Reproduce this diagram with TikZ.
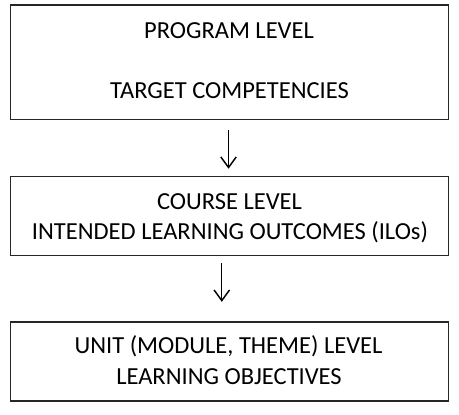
\documentclass[tikz,border=0pt]{standalone}
\usepackage{fontspec}
\setmainfont{Carlito}
\usetikzlibrary{arrows.meta}
\begin{document}
\begin{tikzpicture}[x=1pt,y=-1pt,
  levelbox/.style={draw=black!85, line width=1.6pt, inner sep=0pt, minimum width=454pt},
  leveltext/.style={anchor=base, inner sep=0pt, font=\fontsize{25.4pt}{31pt}\selectfont, text=black},
  downarrow/.style={line width=1.3pt, -{Straight Barb[length=11pt,width=16pt,line width=1.5pt]}}]
\useasboundingbox (0,0) rectangle (476,430);

% the three level boxes
\node[levelbox, minimum height=119pt] (prog)   at (238,64.5) {};
\node[levelbox, minimum height=82pt]  (course) at (238,224) {};
\node[levelbox, minimum height=82pt]  (unit)   at (238,375) {};

% box texts
\node[leveltext] (progA)   at (237.5,40)  {PROGRAM LEVEL};
\node[leveltext] (progB)   at (238,102)   {TARGET COMPETENCIES};
\node[leveltext] (courseA) at (238,217)   {COURSE LEVEL};
\node[leveltext] (courseB) at (238.5,248) {INTENDED LEARNING OUTCOMES (ILOs)};
\node[leveltext] (unitA)   at (237,367)   {UNIT (MODULE, THEME) LEVEL};
\node[leveltext] (unitB)   at (237.5,399) {LEARNING OBJECTIVES};

% arrows between the levels
\coordinate (a1s) at (237,135);
\coordinate (a1e) at (237,175);
\coordinate (a2s) at (230,273);
\coordinate (a2e) at (230,313);
\draw[downarrow] (a1s) -- (a1e);
\draw[downarrow] (a2s) -- (a2e);
\end{tikzpicture}
\end{document}
